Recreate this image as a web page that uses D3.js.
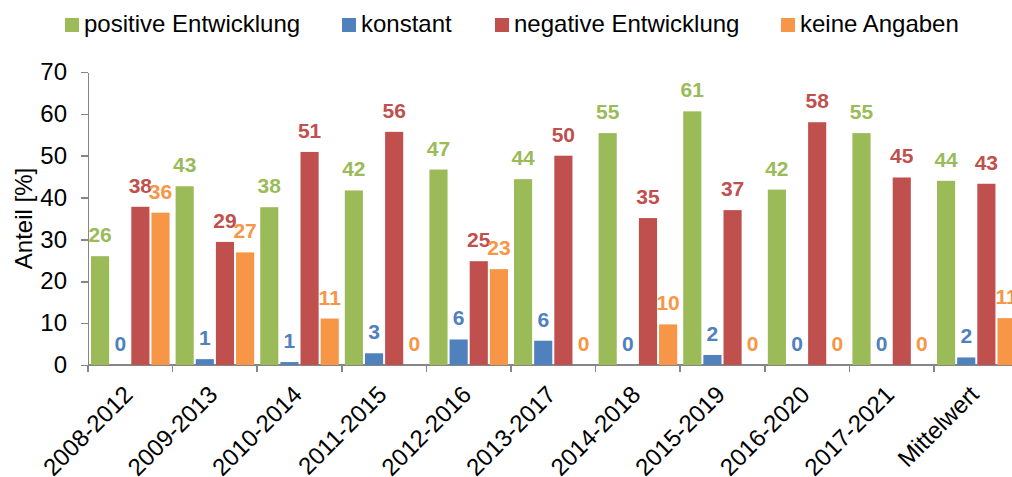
<!DOCTYPE html>
<meta charset="utf-8">
<style>
body { margin: 0; background: #fff; }
svg { display: block; font-family: Arial, "Liberation Sans", sans-serif; }
.axis path, .axis line { stroke: #868686; stroke-width: 1.5; shape-rendering: crispEdges; }
.axis text { font-size: 24px; fill: #000; }
.label { font-size: 21px; font-weight: bold; text-anchor: middle; }
.legend text { font-size: 24px; fill: #000; }
</style>
<body>
<div id="chart"></div>
<script src="https://d3js.org/d3.v7.min.js"></script>
<script>

// categories and series
var categories = ["2008-2012", "2009-2013", "2010-2014", "2011-2015", "2012-2016", "2013-2017",
                  "2014-2018", "2015-2019", "2016-2020", "2017-2021", "Mittelwert"];
var seriesNames = ["positive Entwicklung", "konstant", "negative Entwicklung", "keine Angaben"];
var seriesColors = ["#9BBB59", "#4F81BD", "#C0504D", "#F79646"];

var positive = [26.0, 42.7, 37.7, 41.7, 46.7, 44.4, 55.4, 60.6, 41.9, 55.4, 44.0];
var konstant = [0, 1.4, 0.7, 2.8, 6.1, 5.8, 0, 2.4, 0, 0, 1.8];
var negative = [37.8, 29.4, 50.9, 55.7, 24.8, 50.0, 35.1, 37.0, 58.0, 44.8, 43.3];
var keine    = [36.4, 26.9, 11.1, 0, 22.9, 0, 9.7, 0, 0, 0, 11.2];

var yTicks = [0, 10, 20, 30, 40, 50, 60, 70];

var series = [positive, konstant, negative, keine];

var width = 1012, height = 477;
var margin = {top: 72, left: 88, bottom: 365};

var svg = d3.select("#chart").append("svg")
    .attr("width", width)
    .attr("height", height);

// group scale runs past the right edge like the original (last group is cut off)
var x = d3.scaleBand()
    .domain(categories)
    .range([margin.left, margin.left + 84.6 * categories.length]);

var xInner = d3.scaleBand()
    .domain(d3.range(series.length))
    .range([0, x.bandwidth()])
    .paddingInner(0.1)
    .paddingOuter(0.15);

var y = d3.scaleLinear()
    .domain([0, 70])
    .range([margin.bottom, margin.top]);

// y axis
svg.append("g")
    .attr("class", "axis")
    .attr("transform", "translate(" + margin.left + ",0)")
    .call(d3.axisLeft(y).tickValues(yTicks).tickSize(7).tickSizeOuter(0).tickPadding(14));

// x axis: line, boundary ticks, rotated labels
var xAxis = svg.append("g").attr("class", "axis");

xAxis.append("line")
    .attr("x1", margin.left).attr("x2", width)
    .attr("y1", y(0)).attr("y2", y(0));

xAxis.selectAll(".tick")
    .data(categories)
  .enter().append("line")
    .attr("x1", function(d) { return x(d); })
    .attr("x2", function(d) { return x(d); })
    .attr("y1", y(0))
    .attr("y2", y(0) + 7);

xAxis.selectAll("text")
    .data(categories)
  .enter().append("text")
    .attr("text-anchor", "end")
    .attr("transform", function(d) {
        return "translate(" + (x(d) + x.bandwidth() / 2 + 4) + "," + (y(0) + 31) + ") rotate(-45)";
    })
    .text(function(d) { return d; });

// y axis title
svg.append("text")
    .attr("transform", "translate(32," + (y(0) + y(70)) / 2 + ") rotate(-90)")
    .attr("text-anchor", "middle")
    .style("font-size", "24px")
    .text("Anteil [%]");

// bars
var groups = svg.selectAll(".group")
    .data(categories)
  .enter().append("g")
    .attr("class", "group")
    .attr("transform", function(d) { return "translate(" + x(d) + ",0)"; });

groups.selectAll("rect")
    .data(function(d, i) { return series.map(function(s, j) { return {s: j, v: s[i]}; }); })
  .enter().append("rect")
    .attr("x", function(d) { return xInner(d.s); })
    .attr("width", xInner.bandwidth())
    .attr("y", function(d) { return y(d.v); })
    .attr("height", function(d) { return y(0) - y(d.v); })
    .attr("fill", function(d) { return seriesColors[d.s]; });

groups.selectAll(".label")
    .data(function(d, i) { return series.map(function(s, j) { return {s: j, v: s[i]}; }); })
  .enter().append("text")
    .attr("class", "label")
    .attr("x", function(d) { return xInner(d.s) + xInner.bandwidth() / 2; })
    .attr("y", function(d) { return y(d.v) - 14; })
    .attr("fill", function(d) { return seriesColors[d.s]; })
    .text(function(d) { return d3.format(".0f")(d.v); });

// legend
var legendX = [65, 342, 495, 781];
var legend = svg.append("g").attr("class", "legend");
var items = legend.selectAll("g")
    .data(seriesNames)
  .enter().append("g")
    .attr("transform", function(d, i) { return "translate(" + legendX[i] + ",0)"; });

items.append("rect")
    .attr("y", 18)
    .attr("width", 14)
    .attr("height", 14)
    .attr("fill", function(d, i) { return seriesColors[i]; });

items.append("text")
    .attr("x", 19)
    .attr("y", 31.5)
    .text(function(d) { return d; });

</script>
</body>
